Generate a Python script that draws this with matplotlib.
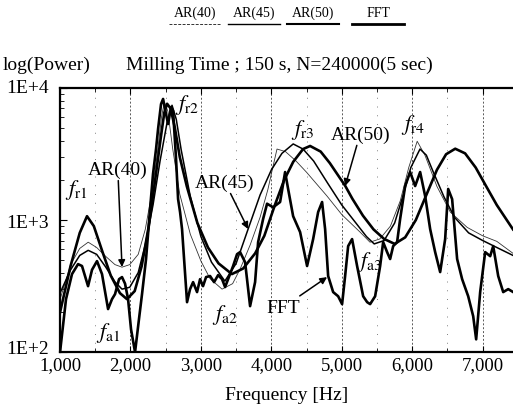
import matplotlib.pyplot as plt
import matplotlib.transforms as mtransforms
from matplotlib.lines import Line2D
from matplotlib.ticker import FuncFormatter, MultipleLocator, FixedLocator

plt.rcParams['font.family'] = ['Liberation Serif', 'DejaVu Serif']
plt.rcParams['mathtext.fontset'] = 'stix'

# spectra (frequency in Hz, power)
ar40_freq = [1000, 1150, 1280, 1400, 1520, 1650, 1780, 1880, 1990, 2110,
             2210, 2300, 2380, 2440, 2480, 2530, 2600, 2700, 2850, 3000,
             3130, 3300, 3450, 3560, 3700, 3840, 3950, 4020, 4080, 4200,
             4350, 4500, 4790, 5000, 5260, 5400, 5540, 5690, 5830, 5950,
             6070, 6180, 6350, 6540, 6780, 7000, 7200, 7430]
ar40_power = [250, 460, 610, 680, 620, 530, 460, 440, 460, 550,
              850, 1570, 3150, 6000, 7800, 6700, 3450, 1570, 780, 490,
              360, 300, 330, 430, 650, 1050, 1700, 2500, 3450, 3300,
              2800, 2300, 1520, 1100, 810, 680, 720, 900, 1400, 2500,
              3950, 3100, 1800, 1150, 880, 760, 690, 560]

ar45_freq = [1000, 1150, 1280, 1400, 1520, 1650, 1780, 1880, 1990, 2110,
             2210, 2320, 2420, 2520, 2590, 2650, 2720, 2850, 3000, 3150,
             3340, 3500, 3670, 3840, 4000, 4150, 4310, 4450, 4600, 4800,
             5000, 5200, 5350, 5460, 5600, 5750, 5880, 5980, 6110, 6200,
             6300, 6450, 6600, 6800, 7000, 7200, 7430]
ar45_power = [280, 420, 540, 590, 550, 440, 340, 300, 310, 400,
              650, 1300, 2800, 5500, 7400, 5800, 3400, 1500, 750, 480,
              345, 470, 855, 1550, 2400, 3200, 3770, 3450, 2800, 1900,
              1300, 950, 750, 660, 700, 950, 1600, 2500, 3450, 3100,
              2300, 1500, 1050, 800, 700, 620, 540]

ar50_freq = [1000, 1150, 1280, 1383, 1480, 1600, 1720, 1850, 1950, 2060,
             2160, 2260, 2350, 2430, 2480, 2520, 2570, 2630, 2700, 2800,
             2950, 3100, 3250, 3440, 3600, 3770, 3900, 4050, 4180, 4310,
             4450, 4550, 4700, 4830, 5050, 5150, 5300, 5450, 5600, 5750,
             5900, 6050, 6200, 6350, 6480, 6610, 6750, 6900, 7050, 7200,
             7430]
ar50_power = [200, 450, 800, 1070, 900, 580, 380, 280, 252, 290,
              450, 900, 2000, 4200, 6500, 7600, 7000, 5000, 3000, 1800,
              950, 620, 470, 390, 430, 560, 760, 1300, 2000, 2760,
              3450, 3640, 3300, 2700, 1810, 1450, 1080, 850, 720, 660,
              740, 1000, 1550, 2400, 3150, 3470, 3200, 2500, 1800, 1300,
              850]

fft_freq = [1000, 1085, 1170, 1256, 1312, 1398, 1454, 1525, 1596, 1682,
            1738, 1781, 1838, 1880, 1923, 1966, 2008, 2065, 2122, 2164,
            2221, 2278, 2320, 2363, 2392, 2434, 2463, 2505, 2534, 2576,
            2605, 2647, 2676, 2704, 2732, 2761, 2803, 2846, 2889, 2945,
            2988, 3030, 3073, 3130, 3187, 3244, 3300, 3343, 3386, 3457,
            3513, 3556, 3627, 3698, 3769, 3812, 3883, 3939, 4025, 4124,
            4195, 4238, 4309, 4408, 4507, 4593, 4664, 4720, 4763, 4806,
            4877, 4948, 5004, 5047, 5090, 5146, 5217, 5303, 5360, 5402,
            5473, 5544, 5587, 5643, 5686, 5729, 5785, 5828, 5899, 5970,
            6041, 6112, 6183, 6254, 6325, 6396, 6467, 6510, 6566, 6637,
            6708, 6794, 6865, 6907, 6964, 7035, 7106, 7149, 7220, 7291,
            7362, 7433]
fft_power = [100, 252, 390, 464, 449, 316, 420, 489, 390, 212,
             252, 275, 357, 370, 330, 252, 149, 100, 180, 275,
             507, 1210, 2230, 3450, 4900, 7560, 8260, 6350, 5340, 7180,
             6700, 2900, 1440, 1150, 855, 507, 239, 300, 339, 285,
             357, 316, 370, 377, 339, 383, 357, 311, 357, 449,
             552, 572, 480, 223, 339, 681, 1020, 1330, 1250, 1370,
             2310, 1720, 1070, 811, 449, 718, 1150, 1370, 855, 377,
             285, 265, 231, 377, 635, 718, 449, 265, 239, 231,
             265, 449, 681, 572, 507, 635, 681, 1020, 1810, 2310,
             1810, 2310, 1520, 855, 572, 404, 718, 1720, 1440, 507,
             357, 265, 187, 125, 285, 572, 533, 635, 377, 285,
             300, 285]

legend_names = ['AR(40)', 'AR(45)', 'AR(50)', 'FFT']

fig = plt.figure(figsize=(5.13, 4.14), dpi=100)
ax = fig.add_axes([0.117, 0.147, 0.883, 0.638])

ax.plot(ar40_freq, ar40_power, color='0.2', lw=0.6)
ax.plot(ar45_freq, ar45_power, color='black', lw=1.1)
ax.plot(ar50_freq, ar50_power, color='black', lw=1.9)
ax.plot(fft_freq, fft_power, color='black', lw=1.9)

ax.set_yscale('log')
ax.set_xlim(1000, 7430)
ax.set_ylim(100, 10000)

ax.xaxis.set_major_locator(MultipleLocator(1000))
ax.xaxis.set_minor_locator(MultipleLocator(500))
ax.xaxis.set_major_formatter(FuncFormatter(lambda v, p: f'{v:,.0f}'))
ax.yaxis.set_major_locator(FixedLocator([100, 1000, 10000]))
ax.yaxis.set_major_formatter(FuncFormatter(lambda v, p: {100: '1E+2', 1000: '1E+3', 10000: '1E+4'}.get(int(round(v)), '')))
ax.tick_params(axis='both', which='both', direction='in')
ax.tick_params(axis='x', which='major', labelsize=13.5, pad=3, length=4, top=True)
ax.tick_params(axis='x', which='minor', length=3, top=True)
ax.tick_params(axis='y', which='major', labelsize=14, pad=8, length=5)
ax.tick_params(axis='y', which='minor', length=3)

ax.grid(True, axis='x', which='major', color='0.35', ls=(0, (2, 2)), lw=0.7)
ax.grid(True, axis='x', which='minor', color='0.5', ls=(0, (1, 8)), lw=0.7)

for side in ['top', 'bottom', 'left']:
    ax.spines[side].set_linewidth(1.6)
ax.spines['right'].set_visible(False)

ax.set_xlabel('Frequency [Hz]', fontsize=14, labelpad=9)

fig.canvas.draw()
# lift the bottom y label a little so it clears the "1,000" label
ylabs = ax.get_yticklabels()
for lab in ylabs:
    if lab.get_text() == '1E+2':
        lab.set_transform(lab.get_transform() + mtransforms.ScaledTranslation(0, 4 / 72, fig.dpi_scale_trans))
    if lab.get_text() == '1E+4':
        lab.set_transform(lab.get_transform() + mtransforms.ScaledTranslation(0, 2 / 72, fig.dpi_scale_trans))

fig.text(0.006, 0.843, 'log(Power)', fontsize=14, va='center', ha='left')
fig.text(0.545, 0.843, 'Milling Time ; 150 s, N=240000(5 sec)', fontsize=14,
         va='center', ha='center')

# legend: labels above short line samples
leg_x = [0.380, 0.495, 0.610, 0.737]
leg_styles = [dict(color='0.2', lw=0.7, ls=(0, (3, 1.5))),
              dict(color='black', lw=1.0),
              dict(color='black', lw=1.5),
              dict(color='black', lw=2.0)]
for x, name, st in zip(leg_x, legend_names, leg_styles):
    fig.text(x, 0.968, name, fontsize=10, ha='center', va='center')
    fig.add_artist(Line2D([x - 0.05, x + 0.05], [0.94, 0.94], transform=fig.transFigure, **st))

# peak / antiresonance labels
labels = [(1227, 1720, 'r1'), (1680, 142, 'a1'), (2800, 7560, 'r2'), (3340, 194, 'a2'),
          (4440, 4890, 'r3'), (5400, 489, 'a3'), (6010, 5340, 'r4')]
for fx, fy, sub in labels:
    ax.text(fx, fy, r'$f_{\mathrm{' + sub + '}}$', fontsize=16, ha='center', va='center')

arrow = dict(arrowstyle='-|>', color='black', lw=1.1, mutation_scale=10, shrinkA=0, shrinkB=0)
ax.annotate('AR(40)', xy=(1880, 441), xytext=(1820, 2430), fontsize=14,
            ha='center', va='center', arrowprops=arrow)
ax.annotate('AR(45)', xy=(3670, 855), xytext=(3340, 1940), fontsize=14,
            ha='center', va='center', arrowprops=arrow)
ax.annotate('AR(50)', xy=(5047, 1810), xytext=(5260, 4490), fontsize=14,
            ha='center', va='center', arrowprops=arrow)
ax.annotate('FFT', xy=(4791, 370), xytext=(4170, 219), fontsize=14,
            ha='center', va='center', arrowprops=arrow)

fig.savefig('out.png', dpi=100)
